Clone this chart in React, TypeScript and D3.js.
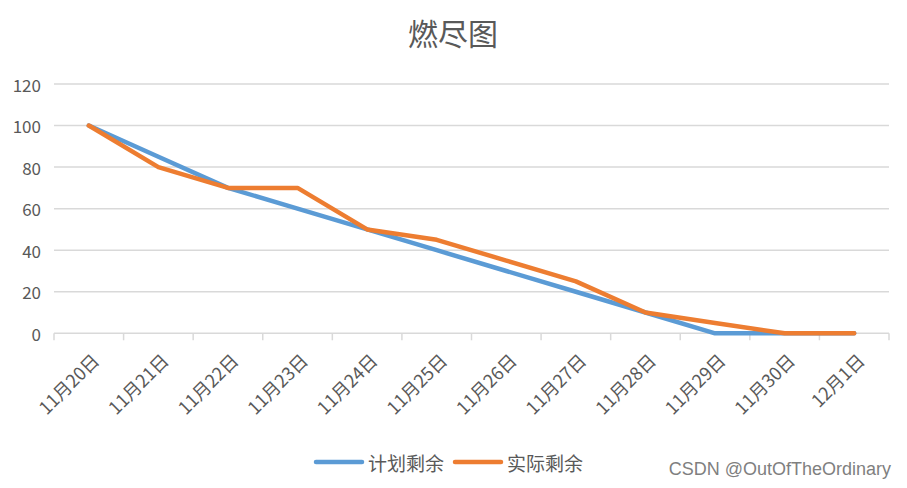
import * as d3 from "d3";

const categories = [
  "11月20日", "11月21日", "11月22日", "11月23日", "11月24日", "11月25日",
  "11月26日", "11月27日", "11月28日", "11月29日", "11月30日", "12月1日",
];
const planned = [100, 85, 70, 60, 50, 40, 30, 20, 10, 0, 0, 0];
const actual = [100, 80, 70, 70, 50, 45, 35, 25, 10, 5, 0, 0];
const yTicks = [0, 20, 40, 60, 80, 100, 120];

const series = [
  { name: "计划剩余", values: planned, color: "#5B9BD5" },
  { name: "实际剩余", values: actual, color: "#ED7D31" },
];

const width = 907;
const height = 488;
const margin = { top: 84, right: 18, bottom: 155, left: 54 };
const font = "'Noto Sans CJK SC', 'Noto Sans', sans-serif";
const textColor = "#595959";

export default function App() {
  const x = d3.scaleBand<string>()
    .domain(categories)
    .range([margin.left, width - margin.right]);

  const y = d3.scaleLinear()
    .domain([0, 120])
    .range([height - margin.bottom + 0.3, margin.top]);

  const line = d3.line<number>()
    .x((_, i) => (x(categories[i]) as number) + x.bandwidth() / 2)
    .y(d => y(d));

  const bottom = y(0);

  return (
    <svg
      width={width}
      height={height}
      style={{ position: "absolute", left: 0, top: 0, background: "#fff" }}
      fontFamily={font}
    >
      <text x={453} y={32} textAnchor="middle" dominantBaseline="central" fontSize="30" fill={textColor}>
        燃尽图
      </text>

      {/* grid */}
      {yTicks.map(t => (
        <g key={t}>
          {t > 0 && (
            <line
              x1={margin.left}
              x2={width - margin.right}
              y1={y(t)}
              y2={y(t)}
              stroke="#d9d9d9"
              strokeWidth={1.5}
            />
          )}
          <text
            x={margin.left - 13}
            y={y(t)}
            textAnchor="end"
            dominantBaseline="central"
            fontSize="17"
            fill={textColor}
          >
            {t}
          </text>
        </g>
      ))}

      {/* x axis */}
      <line
        x1={margin.left}
        x2={width - margin.right}
        y1={bottom}
        y2={bottom}
        stroke="#d9d9d9"
        strokeWidth={1.5}
      />
      {[...categories.map(c => x(c) as number), width - margin.right].map((v, i) => (
        <line key={i} x1={v} x2={v} y1={bottom} y2={bottom + 7} stroke="#d9d9d9" strokeWidth={1.5} />
      ))}
      {categories.map(c => {
        const cx = (x(c) as number) + x.bandwidth() / 2;
        return (
          <text
            key={c}
            transform={`translate(${cx + 6},${bottom + 23}) rotate(-45)`}
            textAnchor="end"
            dominantBaseline="central"
            fontSize="18"
            fill={textColor}
          >
            {c}
          </text>
        );
      })}

      {/* lines */}
      {series.map(s => (
        <path
          key={s.name}
          d={line(s.values) ?? ""}
          fill="none"
          stroke={s.color}
          strokeWidth={4.5}
          strokeLinejoin="round"
          strokeLinecap="round"
        />
      ))}

      {/* legend */}
      {series.map((s, i) => {
        const lx = 316 + i * 139;
        return (
          <g key={s.name}>
            <line x1={lx} x2={lx + 46} y1={462} y2={462} stroke={s.color} strokeWidth={4.5} strokeLinecap="round" />
            <text x={lx + 52} y={462} dominantBaseline="central" fontSize="19" fill={textColor}>
              {s.name}
            </text>
          </g>
        );
      })}

      <text
        x={891}
        y={469}
        textAnchor="end"
        dominantBaseline="central"
        fontSize="18"
        fill="#7f7f7f"
        fontFamily="'Liberation Sans Narrow', 'Liberation Sans', sans-serif"
      >
        CSDN @OutOfTheOrdinary
      </text>
    </svg>
  );
}
